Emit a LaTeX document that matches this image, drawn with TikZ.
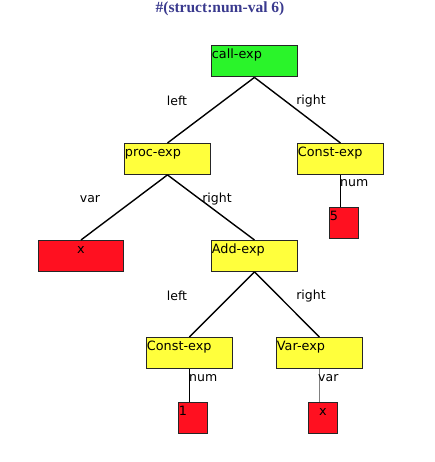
\documentclass[tikz,border=0pt]{standalone}
\usepackage{fontspec}
\setmainfont{DejaVu Sans}
\newfontfamily\titlefont{Liberation Serif}

\definecolor{nodegreen}{HTML}{2AF42A}
\definecolor{nodeyellow}{HTML}{FFFF3C}
\definecolor{nodered}{HTML}{FF1020}
\definecolor{titleblue}{HTML}{3A3A8E}

\tikzset{
  treebox/.style={draw=black!85, line width=0.9pt, anchor=north west,
    inner xsep=0.5pt, inner ysep=1pt, text height=12pt, text depth=17pt,
    font=\fontsize{12.8}{14}\selectfont, align=left},
  callbox/.style={treebox, fill=nodegreen, text width=85pt},
  expbox/.style={treebox, fill=nodeyellow, text width=85pt},
  leafbox/.style={treebox, fill=nodered, text width=28pt},
  wideleaf/.style={treebox, fill=nodered, text width=84pt, align=center},
  edgelabel/.style={font=\fontsize{12.5}{14}\selectfont, inner sep=0pt},
  link/.style={line width=1.4pt, black}
}

\begin{document}
\begin{tikzpicture}[x=1pt, y=-1pt]
\useasboundingbox (0,0) rectangle (435,462);

\node[font=\titlefont\bfseries\fontsize{15.5}{17}\selectfont, text=titleblue] (title) at (220,8.5) {\#(struct:num-val 6)};

% structure boxes
\node[callbox] (call) at (211,45.5) {call-exp};
\node[expbox] (proc) at (124,143) {proc-exp};
\node[expbox] (constA) at (297,143) {Const-exp};
\node[wideleaf] (xbig) at (38,240) {x};
\node[expbox] (add) at (211,240) {Add-exp};
\node[expbox] (constB) at (146,337) {Const-exp};
\node[expbox] (varexp) at (276,337) {Var-exp};
\node[leafbox] (five) at (329,207) {5};
\node[leafbox] (one) at (178,402) {1};
\node[leafbox, align=center] (xsmall) at (308,402) {x};

% connectors
\draw[link] (call.south) -- (proc.north);
\draw[link] (call.south) -- (constA.north);
\draw[link] (proc.south) -- (xbig.north);
\draw[link] (proc.south) -- (add.north);
\draw[link] (add.south) -- (constB.north);
\draw[link] (add.south) -- (varexp.north);
\draw[link] (constA.south) -- (constA.south |- five.north);
\draw[link] (constB.south) -- (constB.south |- one.north);
\draw[link, black!50] (varexp.south) -- (varexp.south |- xsmall.north);

% field labels
\node[edgelabel] (l1) at (177,101) {left};
\node[edgelabel] (r1) at (311,101) {right};
\node[edgelabel] (v1) at (90,199) {var};
\node[edgelabel] (r2) at (217,199) {right};
\node[edgelabel] (l2) at (177,296) {left};
\node[edgelabel] (r3) at (311,296) {right};
\node[edgelabel, anchor=west] (n1) at (340,183) {num};
\node[edgelabel, anchor=west] (n2) at (189,378) {num};
\node[edgelabel, anchor=west] (v2) at (318,378) {var};
\end{tikzpicture}
\end{document}
